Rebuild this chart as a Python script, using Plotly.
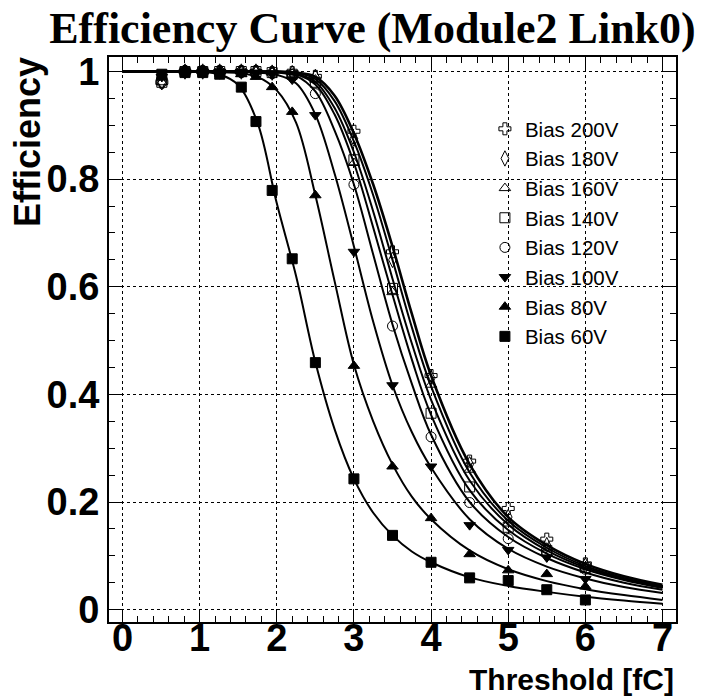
import plotly.graph_objects as go

# ---- data ----
thresholds = [0.51, 0.81, 1.04, 1.26, 1.54, 1.73, 1.94, 2.2, 2.5, 3.0, 3.5, 4.0, 4.5, 5.0, 5.5, 6.0]

eff_200 = [0.98, 1.0, 1.0, 1.0, 1.0, 1.0, 0.998, 0.998, 0.991, 0.889, 0.665, 0.435, 0.276, 0.188, 0.131, 0.085]
eff_180 = [0.98, 1.0, 1.0, 1.0, 1.0, 1.0, 0.998, 0.997, 0.990, 0.875, 0.650, 0.430, 0.270, 0.172, 0.120, 0.082]
eff_160 = [0.98, 1.0, 1.0, 1.0, 1.0, 1.0, 0.998, 0.996, 0.985, 0.830, 0.590, 0.418, 0.260, 0.160, 0.115, 0.080]
eff_140 = [0.98, 1.0, 1.0, 1.0, 1.0, 1.0, 0.998, 0.995, 0.980, 0.836, 0.597, 0.365, 0.228, 0.153, 0.110, 0.078]
eff_120 = [0.98, 1.0, 1.0, 1.0, 1.0, 1.0, 0.997, 0.990, 0.959, 0.790, 0.527, 0.321, 0.199, 0.132, 0.105, 0.075]
eff_100 = [0.99, 1.0, 1.0, 1.0, 1.0, 0.998, 0.996, 0.985, 0.919, 0.665, 0.417, 0.266, 0.157, 0.111, 0.097, 0.057]
eff_80 = [0.99, 1.0, 1.0, 1.0, 0.995, 0.990, 0.971, 0.925, 0.770, 0.453, 0.266, 0.170, 0.103, 0.073, 0.066, 0.043]
eff_60 = [0.995, 0.998, 0.998, 0.995, 0.971, 0.907, 0.779, 0.652, 0.459, 0.243, 0.138, 0.088, 0.059, 0.054, 0.037, 0.018]

# fitted curves
fit_x = [0, 0.5, 1.0, 1.25, 1.5, 1.75, 2.0, 2.25, 2.5, 2.75, 3.0, 3.25, 3.5, 3.75, 4.0, 4.5, 5.0, 5.5, 6.0, 6.5, 7.0]
fit_200 = [1, 1, 1, 1, 1, 1, 1.0, 0.998, 0.990, 0.955, 0.885, 0.790, 0.675, 0.550, 0.435, 0.270, 0.172, 0.120, 0.085, 0.062, 0.046]
fit_180 = [1, 1, 1, 1, 1, 1, 1.0, 0.997, 0.986, 0.945, 0.870, 0.770, 0.650, 0.525, 0.415, 0.255, 0.165, 0.115, 0.081, 0.059, 0.044]
fit_160 = [1, 1, 1, 1, 1, 1, 0.999, 0.996, 0.981, 0.932, 0.850, 0.740, 0.615, 0.495, 0.390, 0.240, 0.158, 0.110, 0.078, 0.057, 0.042]
fit_140 = [1, 1, 1, 1, 1, 1, 0.999, 0.995, 0.976, 0.920, 0.830, 0.710, 0.585, 0.465, 0.362, 0.222, 0.148, 0.104, 0.075, 0.055, 0.040]
fit_120 = [1, 1, 1, 1, 1, 1, 0.998, 0.992, 0.963, 0.890, 0.790, 0.660, 0.530, 0.420, 0.325, 0.200, 0.135, 0.096, 0.069, 0.050, 0.037]
fit_100 = [1, 1, 1, 1, 1, 0.998, 0.994, 0.978, 0.920, 0.810, 0.675, 0.535, 0.417, 0.330, 0.264, 0.168, 0.113, 0.080, 0.058, 0.042, 0.031]
fit_80 = [1, 1, 1, 0.999, 0.997, 0.990, 0.965, 0.905, 0.770, 0.610, 0.455, 0.350, 0.270, 0.210, 0.168, 0.110, 0.075, 0.053, 0.038, 0.027, 0.018]
fit_60 = [1, 1, 0.999, 0.995, 0.975, 0.905, 0.755, 0.620, 0.460, 0.335, 0.243, 0.180, 0.138, 0.108, 0.088, 0.060, 0.044, 0.033, 0.024, 0.017, 0.011]

labels = ["Bias 200V", "Bias 180V", "Bias 160V", "Bias 140V", "Bias 120V", "Bias 100V", "Bias 80V", "Bias 60V"]
series = [eff_200, eff_180, eff_160, eff_140, eff_120, eff_100, eff_80, eff_60]
fits = [fit_200, fit_180, fit_160, fit_140, fit_120, fit_100, fit_80, fit_60]
symbols = ["cross-open", "diamond-tall-open", "triangle-up-open", "square-open",
           "circle-open", "triangle-down", "triangle-up", "square"]
sizes = [10, 11, 10, 10, 10, 10, 10, 10]
fit_widths = [2.6, 2, 2, 2, 2, 2, 2, 2]

x_ticks = [0, 1, 2, 3, 4, 5, 6, 7]
y_ticks = [0, 0.2, 0.4, 0.6, 0.8, 1.0]
y_ticktext = ["0", "0.2", "0.4", "0.6", "0.8", "1"]

fig = go.Figure()

for fy, lw in zip(fits, fit_widths):
    fig.add_trace(go.Scatter(x=fit_x, y=fy, mode="lines", showlegend=False,
                             line=dict(color="black", width=lw, shape="spline", smoothing=1.0),
                             hoverinfo="skip"))

for name, ys, sym, sz in zip(labels, series, symbols, sizes):
    fig.add_trace(go.Scatter(x=thresholds, y=ys, mode="markers", name=name,
                             marker=dict(symbol=sym, size=sz, color="black",
                                         line=dict(color="black", width=1))))

axis_common = dict(
    showline=True, linecolor="black", linewidth=2, mirror="ticks",
    ticks="inside", ticklen=12, tickwidth=1, tickcolor="black",
    showgrid=True, gridcolor="black", gridwidth=1, griddash="dot",
    zeroline=False,
    tickfont=dict(family="Liberation Sans, Arial", size=38, color="black", weight="bold"),
)

fig.update_xaxes(range=[-0.175, 7.175], tickmode="array", tickvals=x_ticks,
                 ticklabelstandoff=-19,
                 minor=dict(dtick=0.2, ticks="inside", ticklen=6, tickcolor="black", showgrid=False),
                 **axis_common)
fig.update_yaxes(range=[-0.023, 1.027], tickmode="array", tickvals=y_ticks, ticktext=y_ticktext,
                 minor=dict(dtick=0.05, ticks="inside", ticklen=6, tickcolor="black", showgrid=False),
                 **axis_common)

fig.update_layout(
    width=702, height=698,
    margin=dict(l=109, r=26, t=57, b=76),
    paper_bgcolor="white", plot_bgcolor="white",
    title=dict(text="Efficiency Curve (Module2 Link0)", x=372.5 / 702, xanchor="center",
               y=1 - 28 / 698, yanchor="middle", yref="container",
               font=dict(family="Liberation Serif, Times New Roman", size=44, color="black", weight="bold")),
    legend=dict(x=0.663, xanchor="left", y=0.908, yanchor="top",
                bgcolor="rgba(0,0,0,0)", borderwidth=0,
                font=dict(family="Liberation Sans, Arial", size=20.5, color="black")),
    annotations=[
        dict(text="Efficiency", xref="paper", yref="paper", x=-0.1446, y=1.0035,
             xanchor="center", yanchor="top", textangle=-90, showarrow=False,
             font=dict(family="Liberation Sans, Arial", size=36, color="black", weight="bold")),
        dict(text="Threshold [fC]", xref="paper", yref="paper", x=0.998, y=-0.1336,
             xanchor="right", yanchor="bottom", showarrow=False, borderpad=0,
             font=dict(family="Liberation Sans, Arial", size=30, color="black", weight="bold")),
    ],
)

fig.write_html("out.html")
